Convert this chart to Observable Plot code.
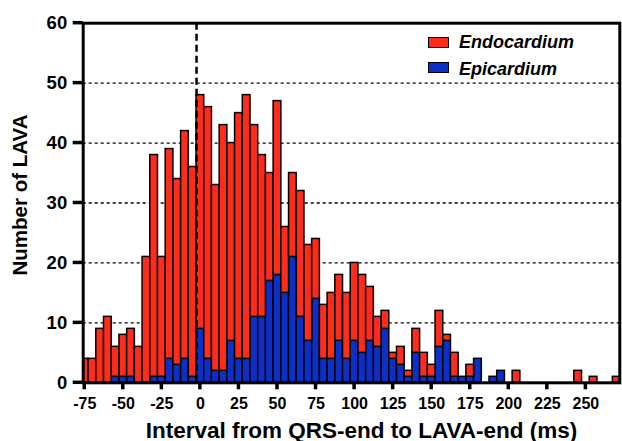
<!DOCTYPE html>
<html><head><meta charset="utf-8">
<script src="https://cdn.jsdelivr.net/npm/d3@7"></script>
<script src="https://cdn.jsdelivr.net/npm/@observablehq/plot@0.6"></script>
<style>
body{margin:0;background:#fff;}
#wrap{position:relative;width:622px;height:441px;font-family:"Liberation Sans",Arial,sans-serif;}
.leg{position:absolute;font-weight:bold;font-style:italic;font-size:18px;line-height:18px;color:#000;white-space:nowrap;}
.sw{position:absolute;width:19px;height:9px;border:1.5px solid #000;}
</style></head><body><div id="wrap"></div>
<script>
// bin centres (ms)
const binCenters = [-75,-70,-65,-60,-55,-50,-45,-40,-35,-30,-25,-20,-15,-10,-5,0,5,10,15,20,25,30,35,40,45,50,55,60,65,70,75,80,85,90,95,100,105,110,115,120,125,130,135,140,145,150,155,160,165,170,175,180,185,190,195,200,205,210,215,220,225,230,235,240,245,250,255,260,265,270];
// Endocardium counts (stacked on top)
const endo = [4,4,9,11,5,7,8,6,21,37,20,35,31,38,35,39,42,31,41,33,41,44,32,27,18,29,11,14,21,16,10,9,11,11,11,13,13,9,5,3,1,3,1,4,4,2,6,1,4,0,2,0,0,0,0,0,2,0,0,0,0,0,0,0,2,0,1,0,0,1];
// Epicardium counts (bottom)
const epi = [0,0,0,0,1,1,1,0,0,1,1,4,3,4,1,9,4,2,2,7,4,4,11,11,17,18,15,21,11,7,14,4,4,7,4,7,5,7,6,9,4,3,1,5,1,1,6,7,1,1,1,4,0,1,2,0,0,0,0,0,0,0,0,0,0,0,0,0,0,0];
const xTicks = [-75,-50,-25,0,25,50,75,100,125,150,175,200,225,250];
const yTicks = [0,10,20,30,40,50,60];
const gridValues = [10,20,30,40,50];
const zeroLine = [-2.5];
const seriesNames = ["Endocardium","Epicardium"];
const seriesColors = ["#ff2c1c","#0c2fc8"];
const xLabel = "Interval from QRS-end to LAVA-end (ms)";
const yLabel = "Number of LAVA";

const half = 2.5;
const rows = binCenters.map((b,i)=>({bin:b, endo:endo[i], epi:epi[i]}));

const mL = 82.7, mR = 2.7, mT = 22.7, mB = 58.7, W = 622, H = 441;
const chart = Plot.plot({
  width: W, height: H,
  marginLeft: mL, marginRight: mR, marginTop: mT, marginBottom: mB,
  x: {domain: [-76, 272]},
  y: {domain: [0, 60]},
  style: {fontFamily: "'Liberation Sans', Arial, sans-serif", background: "white", color: "#000"},
  marks: [
    Plot.gridY(gridValues, {stroke: "#000", strokeOpacity: 1, strokeWidth: 1.3, strokeDasharray: "3,3"}),
    Plot.rect(rows.filter(d => d.epi > 0), {x1: d => d.bin - half, x2: d => d.bin + half, y1: 0, y2: "epi", fill: seriesColors[1], stroke: "#000", strokeWidth: 1.5, clip: true}),
    Plot.rect(rows.filter(d => d.endo > 0), {x1: d => d.bin - half, x2: d => d.bin + half, y1: "epi", y2: d => d.epi + d.endo, fill: seriesColors[0], stroke: "#000", strokeWidth: 1.5, clip: true}),
    Plot.ruleX(zeroLine, {stroke: "#000", strokeWidth: 2.5, strokeDasharray: "7,4"}),
    Plot.frame({stroke: "#000", strokeWidth: 3}),
    Plot.axisY(yTicks, {tickSize: 0, tickPadding: 16, fontSize: 18.5, fontWeight: "bold", tickFormat: d => String(d), label: null}),
    Plot.axisX(xTicks, {tickSize: 0, tickPadding: 15, fontSize: 16, fontWeight: "bold", tickFormat: d => String(d), label: null}),
    Plot.text([xLabel], {text: d => d, frameAnchor: "bottom", lineAnchor: "middle", textAnchor: "middle", dx: 10, dy: 47.5, fontSize: 22.5, fontWeight: "bold"}),
    Plot.text([yLabel], {text: d => d, frameAnchor: "left", textAnchor: "middle", lineAnchor: "middle", dx: -63, dy: -8, rotate: -90, fontSize: 20.5, fontWeight: "bold"})
  ]
});
const wrap = document.getElementById("wrap");
wrap.appendChild(chart);

// thick outward tick marks, positioned with the chart's own scales
const sx = chart.scale("x"), sy = chart.scale("y");
const tg = d3.select(chart).append("g").attr("stroke", "#000").attr("stroke-width", 3.5);
yTicks.forEach(v => {
  const y = sy.apply(v);
  tg.append("line").attr("x1", mL - 10).attr("x2", mL).attr("y1", y).attr("y2", y);
});
xTicks.forEach(v => {
  const x = sx.apply(v);
  tg.append("line").attr("x1", x).attr("x2", x).attr("y1", H - mB).attr("y2", H - mB + 7);
});

// legend overlay (inside plot area, top-right)
const legPos = [{sw: 37, txt: 33}, {sw: 62, txt: 60}];
seriesNames.forEach((name, i) => {
  const sw = document.createElement("div");
  sw.className = "sw";
  sw.style.left = "428px"; sw.style.top = legPos[i].sw + "px";
  sw.style.background = seriesColors[i];
  wrap.appendChild(sw);
  const t = document.createElement("div");
  t.className = "leg";
  t.style.left = "459px"; t.style.top = legPos[i].txt + "px";
  t.textContent = name;
  wrap.appendChild(t);
});
</script></body></html>
